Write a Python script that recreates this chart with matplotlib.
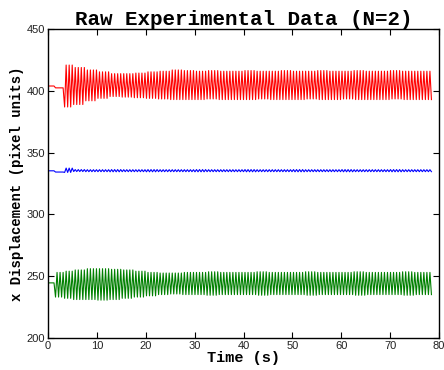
import numpy as np
import matplotlib
matplotlib.use("Agg")
import matplotlib.pyplot as plt

# window edges (s) used for the envelope readings
edges = [0, 1.5, 3.3, 5, 7.5, 10, 12.5, 15, 17.5, 20, 22.5, 25, 27.5, 30,
         32.5, 35, 37.5, 40, 42.5, 45, 47.5, 50, 52.5, 55, 57.5, 60, 62.5,
         65, 67.5, 70, 72.5, 75, 77.5, 78.5]

# upper / lower extremes of each trace within each window (pixel units)
red_hi = [404, 402.5, 421, 419, 417, 415.5, 414, 414, 414.5, 415.5, 416, 417,
          416.5, 416, 416.5, 416, 416, 416.5, 416, 416, 416.5, 416, 416, 416.5,
          416, 416, 416.5, 416, 416, 416.5, 416, 416, 416]
red_lo = [404, 402.5, 387, 389, 392, 394, 395.5, 395, 394.5, 394, 393.5, 393,
          393, 393, 393.5, 393, 393, 393, 393.5, 393, 393, 393, 393.5, 393,
          393, 393.5, 393, 393, 393, 393.5, 393, 393, 393]
blue_hi = [335.3, 334.3, 337.5, 336.3, 336.2, 336.2, 336.3, 336.2, 336.2,
           336.3, 336.2, 336.2, 336.2, 336.3, 336.2, 336.2, 336.2, 336.3,
           336.2, 336.2, 336.2, 336.3, 336.2, 336.2, 336.2, 336.3, 336.2,
           336.2, 336.2, 336.3, 336.2, 336.2, 336.2]
blue_lo = [335.3, 334.3, 334.0, 334.7, 334.6, 334.6, 334.5, 334.6, 334.6,
           334.5, 334.6, 334.6, 334.6, 334.5, 334.6, 334.6, 334.6, 334.5,
           334.6, 334.6, 334.6, 334.5, 334.6, 334.6, 334.6, 334.5, 334.6,
           334.6, 334.6, 334.5, 334.6, 334.6, 334.6]
green_hi = [244.5, 253, 254, 255, 256, 256, 255.5, 255, 254, 253, 252.5, 252.5,
            253, 253, 253.5, 253, 253, 253, 253.5, 253, 253, 253, 253.5, 253,
            253, 253, 253.5, 253, 253, 253, 253.5, 253, 253]
green_lo = [244.5, 233, 232, 231, 231, 230.5, 231, 232, 233, 234, 235, 235.5,
            235, 235, 234.5, 235, 235, 235, 234.5, 235, 235, 235, 234.5, 235,
            235, 235, 234.5, 235, 235, 235, 234.5, 235, 235]

period = 0.62  # s, read from the spacing of the peaks


def zigzag(hi, lo):
    # one vertex every half period, alternating between the window's extremes
    t = np.arange(0, edges[-1], period / 2)
    w = np.clip(np.searchsorted(edges, t, side='right') - 1, 0, len(hi) - 1)
    y = np.where(np.arange(len(t)) % 2 == 0,
                 np.array(hi)[w], np.array(lo)[w])
    return t, y


fig = plt.figure(figsize=(4.44, 3.70), dpi=100)
ax = fig.add_axes([0.108, 0.087, 0.881, 0.834])

for hi, lo, c in [(red_hi, red_lo, '#ff0000'),
                  (blue_hi, blue_lo, '#0000ff'),
                  (green_hi, green_lo, '#008000')]:
    t, y = zigzag(hi, lo)
    ax.plot(t, y, color=c, lw=0.8)

ax.set_xlim(0, 80)
ax.set_ylim(200, 450)
ax.set_xticks(range(0, 81, 10))
ax.set_yticks(range(200, 451, 50))
ax.tick_params(direction='in', top=True, right=True, length=4, width=0.8,
               labelsize=8, labelcolor='#222222', pad=2)
for lab in ax.get_xticklabels() + ax.get_yticklabels():
    lab.set_fontfamily('Liberation Sans')
for s in ax.spines.values():
    s.set_linewidth(1.0)

mono = dict(family='Liberation Mono', weight='bold')
ax.set_title('Raw Experimental Data (N=2)', fontsize=15, pad=3, **mono)
ax.set_xlabel('Time (s)', fontsize=11, labelpad=0, **mono)
ax.set_ylabel('x Displacement (pixel units)', fontsize=10, labelpad=2, **mono)

fig.savefig('out.png', dpi=100)
